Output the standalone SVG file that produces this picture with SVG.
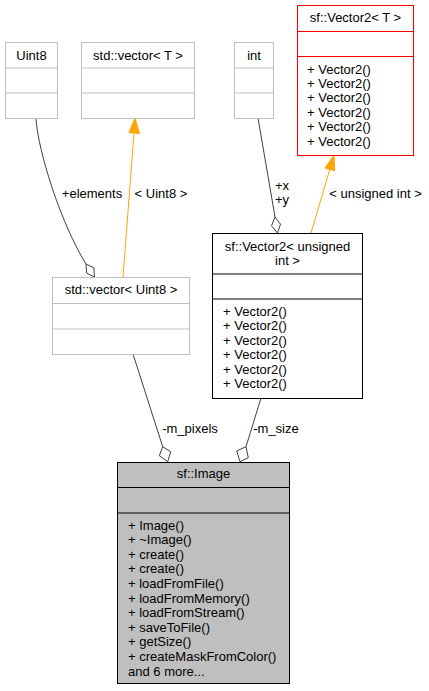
<svg xmlns="http://www.w3.org/2000/svg" width="429" height="691" viewBox="0 0 429 691">
<style>
text{font-family:"Liberation Sans",Arial,sans-serif;font-size:13px;fill:#000}
.c{text-anchor:middle}
.gray rect,.gray line{stroke:#bfbfbf;fill:#fff}
.red rect,.red line{stroke:#ff0000;fill:#fff}
.blk rect,.blk line{stroke:#000;fill:#fff}
.img rect{stroke:#000;fill:#bfbfbf}
.img line{stroke:#000}
.e{fill:none;stroke:#404040;stroke-width:1}
.o{fill:none;stroke:#ffa500;stroke-width:1}
.dia{fill:#fff;stroke:#404040;stroke-width:1}
.arr{fill:#ffa500;stroke:#ffa500;stroke-width:1}
</style>
<rect width="429" height="691" fill="#fff"/>
<g id="connectors">
  <path class="e" d="M36,119 C38,150 60,222 86,264"/>
  <polygon class="dia" points="86,264 93.8,267.8 94.5,277 86.5,273"/>
  <line class="o" x1="123" y1="277" x2="134" y2="133"/>
  <polygon class="arr" points="135,118 129,132.6 139.5,133.4"/>
  <line class="e" x1="258" y1="118" x2="275" y2="217"/>
  <polygon class="dia" points="275,217 280.5,224.2 277.5,233 271.5,225.8"/>
  <line class="o" x1="311" y1="233" x2="329.8" y2="169.4"/>
  <polygon class="arr" points="334,155 325,168 334.6,170.8"/>
  <line class="e" x1="133" y1="354" x2="162.7" y2="446.7"/>
  <polygon class="dia" points="162.7,446.7 170.7,451.7 167.7,461.7 159.3,455.7"/>
  <line class="e" x1="261" y1="398" x2="246" y2="446.7"/>
  <polygon class="dia" points="246,446.7 248.3,457.7 240,461.7 236.7,451"/>
  <text class="c" x="92" y="197.5">+elements</text>
  <text class="c" x="161" y="197.5">&lt; Uint8 &gt;</text>
  <text class="c" x="282" y="190">+x</text>
  <text class="c" x="282" y="204.4">+y</text>
  <text class="c" x="375.5" y="197.5">&lt; unsigned int &gt;</text>
  <text class="c" x="190" y="433">-m_pixels</text>
  <text class="c" x="276" y="433">-m_size</text>
</g>
<g id="node-uint8" class="gray">
  <rect x="5.5" y="42.5" width="52" height="76"/>
  <line x1="5.5" y1="68" x2="57.5" y2="68"/>
  <line x1="5.5" y1="93" x2="57.5" y2="93"/>
  <text class="c" x="31.5" y="59.5">Uint8</text>
</g>
<g id="node-vector-t" class="gray">
  <rect x="81.5" y="42.5" width="113" height="76"/>
  <line x1="81.5" y1="68" x2="194.5" y2="68"/>
  <line x1="81.5" y1="93" x2="194.5" y2="93"/>
  <text class="c" x="138" y="59.5">std::vector&lt; T &gt;</text>
</g>
<g id="node-int" class="gray">
  <rect x="234.5" y="42.5" width="39" height="76"/>
  <line x1="234.5" y1="68" x2="273.5" y2="68"/>
  <line x1="234.5" y1="93" x2="273.5" y2="93"/>
  <text class="c" x="254" y="59.5">int</text>
</g>
<g id="node-vector2-t" class="red">
  <rect x="297.5" y="5.5" width="116" height="150"/>
  <line x1="297.5" y1="31.5" x2="413.5" y2="31.5"/>
  <line x1="297.5" y1="56.5" x2="413.5" y2="56.5"/>
  <text class="c" x="355.5" y="22">sf::Vector2&lt; T &gt;</text>
  <text x="307" y="73.5">+ Vector2()</text>
  <text x="307" y="87.9">+ Vector2()</text>
  <text x="307" y="102.3">+ Vector2()</text>
  <text x="307" y="116.7">+ Vector2()</text>
  <text x="307" y="131.1">+ Vector2()</text>
  <text x="307" y="145.5">+ Vector2()</text>
</g>
<g id="node-vector-uint8" class="gray">
  <rect x="52.5" y="277.5" width="137" height="77"/>
  <line x1="52.5" y1="303.5" x2="189.5" y2="303.5"/>
  <line x1="52.5" y1="329" x2="189.5" y2="329"/>
  <text class="c" x="121" y="294">std::vector&lt; Uint8 &gt;</text>
</g>
<g id="node-vector2-uint" class="blk">
  <rect x="212.5" y="233.5" width="150" height="165"/>
  <line x1="212.5" y1="274" x2="362.5" y2="274"/>
  <line x1="212.5" y1="299" x2="362.5" y2="299"/>
  <text class="c" x="287.5" y="250.5">sf::Vector2&lt; unsigned</text>
  <text class="c" x="287.5" y="265">int &gt;</text>
  <text x="223" y="315.5">+ Vector2()</text>
  <text x="223" y="330">+ Vector2()</text>
  <text x="223" y="344.5">+ Vector2()</text>
  <text x="223" y="359">+ Vector2()</text>
  <text x="223" y="373.5">+ Vector2()</text>
  <text x="223" y="388">+ Vector2()</text>
</g>
<g id="node-image" class="img">
  <rect x="117.5" y="462.5" width="172" height="221"/>
  <line x1="117.5" y1="487.5" x2="289.5" y2="487.5"/>
  <line x1="117.5" y1="513" x2="289.5" y2="513"/>
  <text class="c" x="203.5" y="478">sf::Image</text>
  <text x="128" y="529.5">+ Image()</text>
  <text x="128" y="544.1">+ ~Image()</text>
  <text x="128" y="558.7">+ create()</text>
  <text x="128" y="573.3">+ create()</text>
  <text x="128" y="587.9">+ loadFromFile()</text>
  <text x="128" y="602.5">+ loadFromMemory()</text>
  <text x="128" y="617.1">+ loadFromStream()</text>
  <text x="128" y="631.7">+ saveToFile()</text>
  <text x="128" y="646.3">+ getSize()</text>
  <text x="128" y="660.9">+ createMaskFromColor()</text>
  <text x="128" y="675.5">and 6 more...</text>
</g>
</svg>
